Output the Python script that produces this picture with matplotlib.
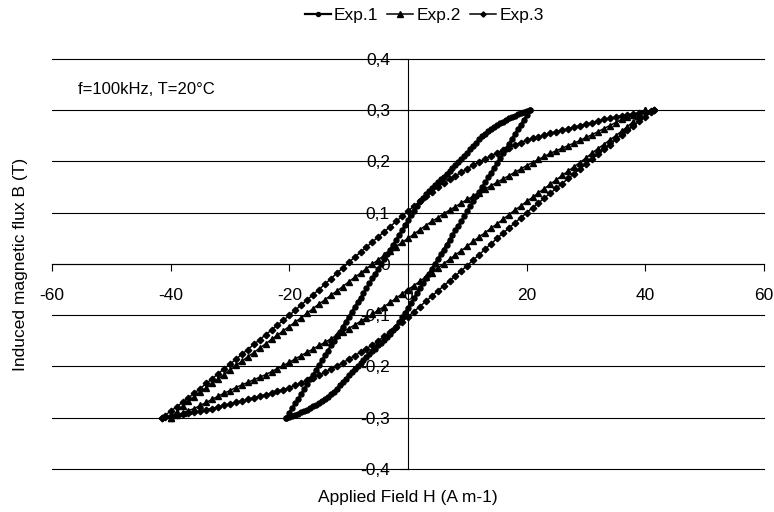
import matplotlib
matplotlib.use("Agg")
import matplotlib.pyplot as plt
from matplotlib.ticker import FuncFormatter

plt.rcParams['font.family'] = ['Liberation Sans', 'DejaVu Sans']

# Exp.1 : field values (order of the upper branch, +tip to -tip) and both branches
h_exp1 = [20.5, 20, 19.5, 19, 18.5, 18, 17.5, 17, 16.5, 16, 15.5, 15, 14.5, 14, 13.5, 13,
          12.5, 12, 11.5, 11, 10.5, 10, 9.5, 9, 8.5, 8, 7.5, 7, 6.5, 6, 5.5, 5, 4.5, 4,
          3.5, 3, 2.5, 2, 1.5, 1, 0.5, 0, -0.5, -1, -1.5, -2, -2.5, -3, -3.5, -4, -4.5,
          -5, -5.5, -6, -6.5, -7, -7.5, -8, -8.5, -9, -9.5, -10, -10.5, -11, -11.5, -12,
          -12.5, -13, -13.5, -14, -14.5, -15, -15.5, -16, -16.5, -17, -17.5, -18, -18.5,
          -19, -19.5, -20, -20.5]
b_exp1_up = [0.300, 0.298, 0.296, 0.294, 0.292, 0.289, 0.287, 0.284, 0.281, 0.278,
             0.275, 0.271, 0.267, 0.263, 0.259, 0.254, 0.249, 0.243, 0.237, 0.230,
             0.224, 0.217, 0.210, 0.204, 0.199, 0.193, 0.187, 0.181, 0.176, 0.170,
             0.165, 0.159, 0.154, 0.148, 0.142, 0.136, 0.129, 0.122, 0.113, 0.104,
             0.095, 0.085, 0.076, 0.066, 0.057, 0.047, 0.038, 0.028, 0.019, 0.009,
             0.000, -0.009, -0.019, -0.028, -0.038, -0.047, -0.057, -0.066, -0.075, -0.084,
             -0.094, -0.103, -0.113, -0.122, -0.132, -0.141, -0.150, -0.159, -0.169, -0.178,
             -0.188, -0.197, -0.207, -0.216, -0.225, -0.234, -0.244, -0.253, -0.263, -0.272,
             -0.281, -0.290, -0.300]
b_exp1_low = [0.300, 0.290, 0.281, 0.272, 0.263, 0.253, 0.244, 0.234, 0.225, 0.216,
              0.207, 0.197, 0.188, 0.178, 0.169, 0.159, 0.150, 0.141, 0.132, 0.122,
              0.113, 0.103, 0.094, 0.084, 0.075, 0.066, 0.057, 0.047, 0.038, 0.028,
              0.019, 0.009, 0.000, -0.009, -0.019, -0.028, -0.038, -0.047, -0.057, -0.066,
              -0.076, -0.085, -0.095, -0.104, -0.113, -0.122, -0.129, -0.136, -0.142, -0.148,
              -0.154, -0.159, -0.165, -0.170, -0.176, -0.181, -0.187, -0.193, -0.199, -0.204,
              -0.210, -0.217, -0.224, -0.230, -0.237, -0.243, -0.249, -0.254, -0.259, -0.263,
              -0.267, -0.271, -0.275, -0.278, -0.281, -0.284, -0.287, -0.289, -0.292, -0.294,
              -0.296, -0.298, -0.300]

# Exp.2
h_exp2 = [40, 39, 38, 37, 36, 35, 34, 33, 32, 31, 30, 29, 28, 27, 26, 25, 24, 23, 22, 21,
          20, 19, 18, 17, 16, 15, 14, 13, 12, 11, 10, 9, 8, 7, 6, 5, 4, 3, 2, 1, 0,
          -1, -2, -3, -4, -5, -6, -7, -8, -9, -10, -11, -12, -13, -14, -15, -16, -17, -18,
          -19, -20, -21, -22, -23, -24, -25, -26, -27, -28, -29, -30, -31, -32, -33, -34,
          -35, -36, -37, -38, -39, -40]
b_exp2_up = [0.300, 0.295, 0.291, 0.286, 0.282, 0.276, 0.270, 0.264, 0.258, 0.252,
             0.247, 0.241, 0.236, 0.231, 0.226, 0.221, 0.216, 0.210, 0.204, 0.198,
             0.192, 0.185, 0.179, 0.172, 0.166, 0.159, 0.153, 0.146, 0.139, 0.132,
             0.126, 0.119, 0.112, 0.105, 0.098, 0.090, 0.083, 0.075, 0.067, 0.058,
             0.050,
             0.042, 0.034, 0.025, 0.017, 0.008, 0.000, -0.009, -0.018, -0.026, -0.035,
             -0.044, -0.053, -0.061, -0.070, -0.078, -0.087, -0.096, -0.105, -0.113, -0.122,
             -0.130, -0.139, -0.147, -0.156, -0.164, -0.173, -0.181, -0.190, -0.198, -0.207,
             -0.216, -0.225, -0.233, -0.242, -0.250, -0.259, -0.268, -0.278, -0.289, -0.300]
b_exp2_low = [0.300, 0.289, 0.278, 0.268, 0.259, 0.250, 0.242, 0.233, 0.225, 0.216,
              0.207, 0.198, 0.190, 0.181, 0.173, 0.164, 0.156, 0.147, 0.139, 0.130,
              0.122, 0.113, 0.105, 0.096, 0.087, 0.078, 0.070, 0.061, 0.053, 0.044,
              0.035, 0.026, 0.018, 0.009, 0.000, -0.008, -0.017, -0.025, -0.034, -0.042,
              -0.050,
              -0.058, -0.067, -0.075, -0.083, -0.090, -0.098, -0.105, -0.112, -0.119, -0.126,
              -0.132, -0.139, -0.146, -0.153, -0.159, -0.166, -0.172, -0.179, -0.185, -0.192,
              -0.198, -0.204, -0.210, -0.216, -0.221, -0.226, -0.231, -0.236, -0.241, -0.247,
              -0.252, -0.258, -0.264, -0.270, -0.276, -0.282, -0.286, -0.291, -0.295, -0.300]

# Exp.3
h_exp3 = [41.5, 41, 40, 39, 38, 37, 36, 35, 34, 33, 32, 31, 30, 29, 28, 27, 26, 25, 24, 23,
          22, 21, 20, 19, 18, 17, 16, 15, 14, 13, 12, 11, 10, 9, 8, 7, 6, 5, 4, 3, 2, 1, 0,
          -1, -2, -3, -4, -5, -6, -7, -8, -9, -10, -11, -12, -13, -14, -15, -16, -17, -18,
          -19, -20, -21, -22, -23, -24, -25, -26, -27, -28, -29, -30, -31, -32, -33, -34,
          -35, -36, -37, -38, -39, -40, -41, -41.5]
b_exp3_up = [0.300, 0.299, 0.297, 0.295, 0.293, 0.291, 0.289, 0.287, 0.284, 0.282,
             0.279, 0.276, 0.273, 0.270, 0.267, 0.264, 0.261, 0.258, 0.255, 0.252,
             0.248, 0.245, 0.241, 0.237, 0.232, 0.227, 0.222, 0.217, 0.211, 0.205,
             0.199, 0.193, 0.186, 0.179, 0.172, 0.165, 0.158, 0.150, 0.141, 0.132,
             0.122, 0.113, 0.103,
             0.093, 0.083, 0.073, 0.063, 0.053, 0.043, 0.033, 0.023, 0.013, 0.003,
             -0.008, -0.018, -0.029, -0.039, -0.050, -0.060, -0.070, -0.080, -0.090, -0.100,
             -0.110, -0.119, -0.129, -0.138, -0.148, -0.157, -0.167, -0.176, -0.186, -0.195,
             -0.205, -0.214, -0.224, -0.233, -0.243, -0.252, -0.261, -0.270, -0.279, -0.287,
             -0.296, -0.300]
b_exp3_low = [0.300, 0.296,
              0.287, 0.279, 0.270, 0.261, 0.252, 0.243, 0.233, 0.224, 0.214, 0.205,
              0.195, 0.186, 0.176, 0.167, 0.157, 0.148, 0.138, 0.129, 0.119, 0.110,
              0.100, 0.090, 0.080, 0.070, 0.060, 0.050, 0.039, 0.029, 0.018, 0.008,
              -0.003, -0.013, -0.023, -0.033, -0.043, -0.053, -0.063, -0.073, -0.083, -0.093,
              -0.103,
              -0.113, -0.122,
              -0.132, -0.141, -0.150, -0.158, -0.165, -0.172, -0.179, -0.186, -0.193, -0.199,
              -0.205, -0.211, -0.217, -0.222, -0.227, -0.232, -0.237, -0.241, -0.245, -0.248,
              -0.252, -0.255, -0.258, -0.261, -0.264, -0.267, -0.270, -0.273, -0.276, -0.279,
              -0.282, -0.284, -0.287, -0.289, -0.291, -0.293, -0.295, -0.297, -0.299, -0.300]

x_ticks = [-60, -40, -20, 0, 20, 40, 60]
y_ticks = [-0.4, -0.3, -0.2, -0.1, 0, 0.1, 0.2, 0.3, 0.4]

fig = plt.figure(figsize=(7.74, 5.12), dpi=100)
ax = fig.add_axes([0.0672, 0.084, 0.9198, 0.8008])

# each loop: upper branch, then the lower branch back to the start
series = [
    ("Exp.1", h_exp1, b_exp1_up, b_exp1_low, "o", 3.6, 1.6),
    ("Exp.2", h_exp2, b_exp2_up, b_exp2_low, "^", 4.6, 1.1),
    ("Exp.3", h_exp3, b_exp3_up, b_exp3_low, "D", 3.3, 1.1),
]
for name, h, up, low, mk, ms, lw in series:
    hh = h + h[::-1]
    bb = up + low[::-1]
    ax.plot(hh, bb, color="black", lw=lw, marker=mk, ms=ms, label=name, zorder=3)

ax.set_xlim(-60, 60)
ax.set_ylim(-0.4, 0.4)
ax.set_xticks(x_ticks)
ax.set_yticks(y_ticks)

fmt = lambda v, pos: "0" if abs(v) < 1e-9 else f"{v:.1f}".replace(".", ",")
ax.yaxis.set_major_formatter(FuncFormatter(fmt))
ax.xaxis.set_major_formatter(FuncFormatter(lambda v, pos: f"{v:.0f}"))

ax.spines["left"].set_position(("data", 0))
ax.spines["bottom"].set_position(("data", 0))
ax.spines["top"].set_visible(False)
ax.spines["right"].set_visible(False)
for s in ("left", "bottom"):
    ax.spines[s].set_linewidth(0.8)

ax.yaxis.grid(True, color="black", lw=0.8)
for gl in ax.get_ygridlines():
    gl.set_clip_on(False)
ax.set_axisbelow(True)
ax.tick_params(axis="x", direction="out", length=5, width=0.8, pad=12, labelsize=12.5)
ax.tick_params(axis="y", direction="out", length=6, width=0.8, pad=7, labelsize=12.5)

ax.set_xlabel("Applied Field H (A m-1)", fontsize=12.5)
ax.xaxis.set_label_coords(0.5, -0.052)
ax.set_ylabel("Induced magnetic flux B (T)", fontsize=12.5)
ax.yaxis.set_label_coords(-0.034, 0.5)

ax.text(-55.6, 0.34, "f=100kHz, T=20°C", fontsize=12, ha="left", va="center")

fig.legend(loc="center", bbox_to_anchor=(0.548, 0.970), ncol=3, frameon=False,
           fontsize=12.5, handlelength=1.5, columnspacing=0.5, handletextpad=0.2,
           markerscale=0.8)

fig.savefig("out.png", dpi=100)
